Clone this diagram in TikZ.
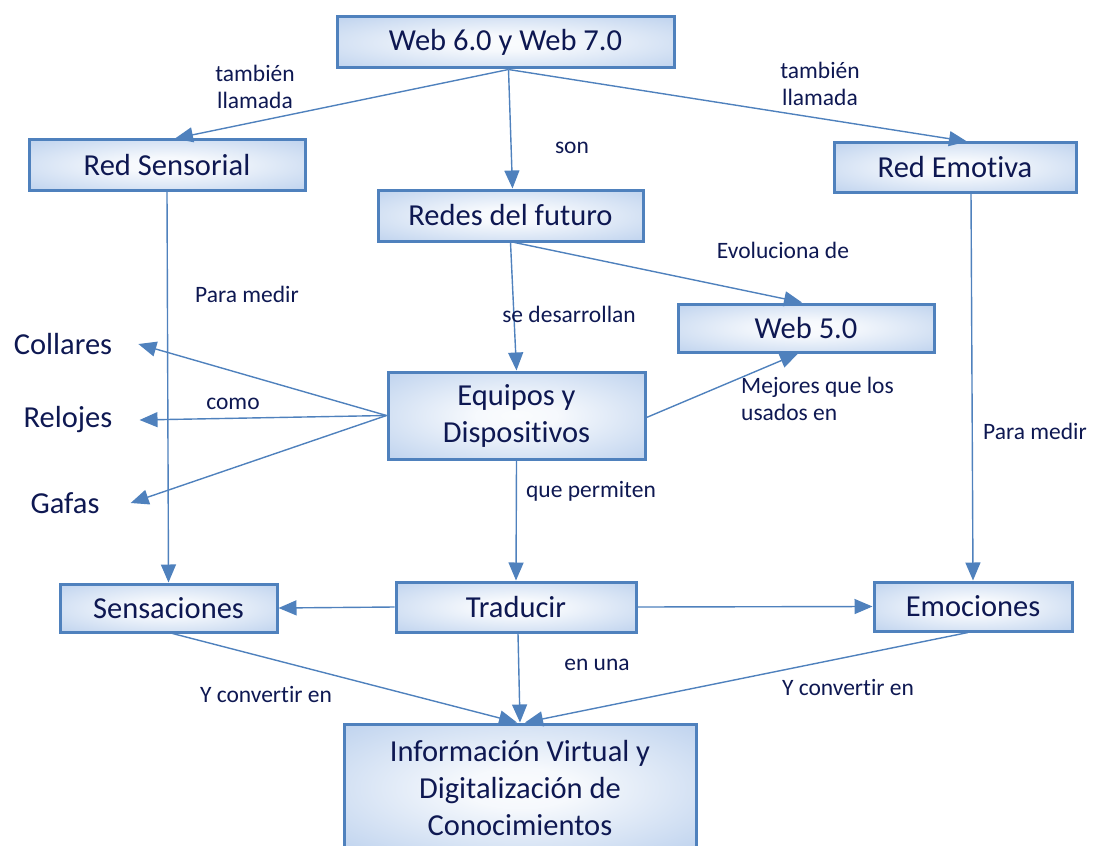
\documentclass[tikz,border=0pt]{standalone}
\usepackage{fontspec}
\setmainfont{Carlito}[RawFeature={-liga;-clig;-calt;-dlig}]
\usetikzlibrary{arrows.meta,calc}
\definecolor{linkblue}{RGB}{79,129,189}
\definecolor{boxedge}{RGB}{194,213,239}
\definecolor{ink}{RGB}{14,24,82}
\pgfdeclareradialshading{glow}{\pgfpointorigin}{color(0bp)=(white!92!boxedge); color(8bp)=(white!85!boxedge); color(34bp)=(boxedge); color(50bp)=(boxedge)}
\tikzset{
  box/.style={draw=linkblue, line width=3pt, inner sep=0pt, shading=glow,
    text=ink, font=\fontsize{30.5}{37}\selectfont, align=center},
  lbl/.style={text=ink, font=\fontsize{23.5}{27.5}\selectfont, align=center, inner sep=0pt},
  item/.style={text=ink, font=\fontsize{30.5}{37}\selectfont, inner sep=0pt},
  link/.style={draw=linkblue, line width=1.4pt, -{Triangle[length=18pt,width=15pt]}},
}
\begin{document}
\begin{tikzpicture}[x=1pt,y=-1pt]
\useasboundingbox (0,0) rectangle (1099,845);
\clip (0,0) rectangle (1099,845);

% concept boxes
\node[box, minimum width=337pt, minimum height=51pt] (w67) at (505.5,42.5) {Web 6.0 y Web 7.0};
\node[box, minimum width=276pt, minimum height=50pt] (rs) at (167,165) {Red Sensorial};
\node[box, minimum width=242pt, minimum height=49pt] (re) at (955,167.5) {Red Emotiva};
\node[box, minimum width=265pt, minimum height=51pt] (rf) at (510.5,215.5) {Redes del futuro};
\node[box, minimum width=256pt, minimum height=48pt] (w5) at (806,328) {Web 5.0};
\node[box, minimum width=257pt, minimum height=87pt] (eq) at (516.5,415.5) {Equipos y\\Dispositivos};
\node[box, minimum width=217pt, minimum height=48pt] (sens) at (168.5,608) {Sensaciones};
\node[box, minimum width=240pt, minimum height=50pt] (trad) at (516,607) {Traducir};
\node[box, minimum width=198pt, minimum height=49pt] (emo) at (973,606.5) {Emociones};
\node[box, minimum width=352pt, minimum height=128pt] (info) at (520,788) {Información Virtual y\\Digitalización de\\Conocimientos};

% device examples
\node[item] (col) at (63,344) {Collares};
\node[item] (rel) at (68,420) {Relojes};
\node[item] (gaf) at (65,503) {Gafas};

% connectors
\draw[link] ([xshift=3pt]w67.south) -- ([xshift=8pt]rs.north);
\draw[link] ([xshift=3pt]w67.south) -- ([xshift=12pt]re.north);
\draw[link] ([xshift=3pt]w67.south) -- ([xshift=2pt]rf.north);
\draw[link] (rs.south) -- (sens.north);
\draw[link] ([xshift=16pt]re.south) -- (emo.north);
\draw[link] ([xshift=4pt]rf.south) -- ([xshift=-4pt]w5.north);
\draw[link] (rf.south) -- (eq.north);
\draw[link] (eq.west) -- ([xshift=26pt]col.east);
\draw[link] (eq.west) -- ([xshift=27pt]rel.east);
\draw[link] (eq.west) -- ([xshift=31pt]gaf.east);
\draw[link] ([yshift=-2pt]eq.east) -- ([xshift=-8pt]w5.south);
\draw[link] (eq.south) -- (trad.north);
\draw[link] (trad.west) -- (sens.east);
\draw[link] (trad.east) -- (emo.west);
\draw[link] ([xshift=4pt]sens.south) -- ([xshift=-3pt]info.north);
\draw[link] ([xshift=2pt]trad.south) -- (info.north);
\draw[link] ([xshift=-5pt]emo.south) -- ([xshift=5pt]info.north);

% connector labels
\node[lbl] (l1) at (255,87) {también\\llamada};
\node[lbl] (l2) at (820,84) {también\\llamada};
\node[lbl] (l3) at (572,148) {son};
\node[lbl] (l4) at (247,294) {Para medir};
\node[lbl] (l5) at (783,250) {Evoluciona de};
\node[lbl] (l6) at (569,314) {se desarrollan};
\node[lbl] (l7) at (233,404) {como};
\node[lbl, align=left, anchor=west] (l8) at (741,399) {Mejores que los\\usados en};
\node[lbl] (l9) at (1035,431) {Para medir};
\node[lbl] (l10) at (591,491) {que permiten};
\node[lbl] (l11) at (597,665) {en una};
\node[lbl] (l12) at (266,694) {Y convertir en};
\node[lbl] (l13) at (848,687) {Y convertir en};
\end{tikzpicture}
\end{document}
